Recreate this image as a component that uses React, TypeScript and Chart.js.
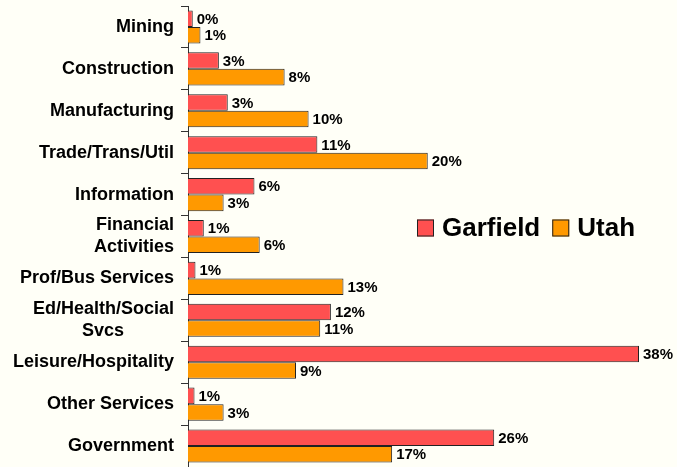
import React, { useEffect, useRef } from "react";
import { Chart, registerables } from "chart.js";

Chart.register(...registerables);

const categories: (string | string[])[] = [
  "Mining",
  "Construction",
  "Manufacturing",
  "Trade/Trans/Util",
  "Information",
  ["Financial", "Activities"],
  "Prof/Bus Services",
  ["Ed/Health/Social", "Svcs          "],
  "Leisure/Hospitality",
  "Other Services",
  "Government",
];

const garfield = [0.4, 2.6, 3.35, 10.9, 5.6, 1.33, 0.63, 12.04, 38.0, 0.55, 25.8];
const utah = [1.05, 8.14, 10.16, 20.2, 3.0, 6.04, 13.1, 11.14, 9.1, 3.0, 17.2];

const seriesNames = ["Garfield", "Utah"];
const seriesColors = ["#FF5050", "#FF9900"];

const FONT = "'Liberation Sans', Arial, sans-serif";
const BG = "#FFFFF7";

const bgPlugin = {
  id: "bg",
  beforeDraw(chart: any) {
    const ctx = chart.ctx;
    ctx.save();
    ctx.fillStyle = BG;
    ctx.fillRect(0, 0, chart.width, chart.height);
    ctx.restore();
  },
};

const valueLabelPlugin = {
  id: "valueLabels",
  afterDatasetsDraw(chart: any) {
    const ctx = chart.ctx;
    ctx.save();
    ctx.font = `bold 15px ${FONT}`;
    ctx.fillStyle = "#000";
    ctx.textAlign = "left";
    ctx.textBaseline = "middle";
    chart.data.datasets.forEach((ds: any, i: number) => {
      const meta = chart.getDatasetMeta(i);
      meta.data.forEach((el: any, j: number) => {
        const v = ds.data[j];
        ctx.fillText(Math.round(v) + "%", el.x + 4, el.y + 1);
      });
    });
    ctx.restore();
  },
};

const legendPlugin = {
  id: "customLegend",
  afterDraw(chart: any) {
    const ctx = chart.ctx;
    ctx.save();
    ctx.font = `bold 26px ${FONT}`;
    ctx.textBaseline = "middle";
    ctx.textAlign = "left";
    let x = 417;
    const cy = 228;
    const box = 17;
    chart.data.datasets.forEach((ds: any) => {
      ctx.fillStyle = ds.backgroundColor;
      ctx.fillRect(x, cy - box / 2, box, box);
      ctx.strokeStyle = "#222";
      ctx.lineWidth = 1;
      ctx.strokeRect(x + 0.5, cy - box / 2 + 0.5, box - 1, box - 1);
      x += box + 8;
      ctx.fillStyle = "#000";
      ctx.fillText(ds.label, x, cy + 1);
      x += ctx.measureText(ds.label).width + 12;
    });
    ctx.restore();
  },
};

export default function App() {
  const ref = useRef<HTMLCanvasElement | null>(null);

  useEffect(() => {
    document.body.style.margin = "0";
    document.body.style.background = BG;
    if (!ref.current) return;
    const chart = new Chart(ref.current, {
      type: "bar",
      data: {
        labels: categories,
        datasets: [
          {
            label: seriesNames[0],
            data: garfield,
            backgroundColor: seriesColors[0],
            borderColor: "#222",
            borderWidth: 1,
            categoryPercentage: 0.79,
            barPercentage: 1.0,
          },
          {
            label: seriesNames[1],
            data: utah,
            backgroundColor: seriesColors[1],
            borderColor: "#222",
            borderWidth: 1,
            categoryPercentage: 0.79,
            barPercentage: 1.0,
          },
        ],
      },
      options: {
        indexAxis: "y",
        responsive: false,
        animation: false,
        devicePixelRatio: 1,
        layout: { padding: { top: 6, right: 38, bottom: 0, left: 0 } },
        plugins: {
          legend: { display: false },
          tooltip: { enabled: false },
        },
        scales: {
          x: {
            display: false,
            min: 0,
            max: 38,
          },
          y: {
            afterFit(scale: any) {
              scale.width = 188;
              scale.paddingTop = 0;
              scale.paddingBottom = 0;
            },
            border: { display: true, color: "#333", width: 1 },
            grid: {
              display: true,
              drawOnChartArea: false,
              drawTicks: true,
              tickLength: 7,
              color: "#333",
              offset: true,
            },
            ticks: {
              color: "#000",
              padding: 7,
              font: { family: FONT, size: 18, weight: "bold", lineHeight: 1.22 },
              autoSkip: false,
            },
          },
        },
      },
      plugins: [bgPlugin, valueLabelPlugin, legendPlugin],
    } as any);
    return () => chart.destroy();
  }, []);

  return (
    <div style={{ width: 677, height: 467 }}>
      <canvas ref={ref} width={677} height={467} style={{ display: "block" }} />
    </div>
  );
}
